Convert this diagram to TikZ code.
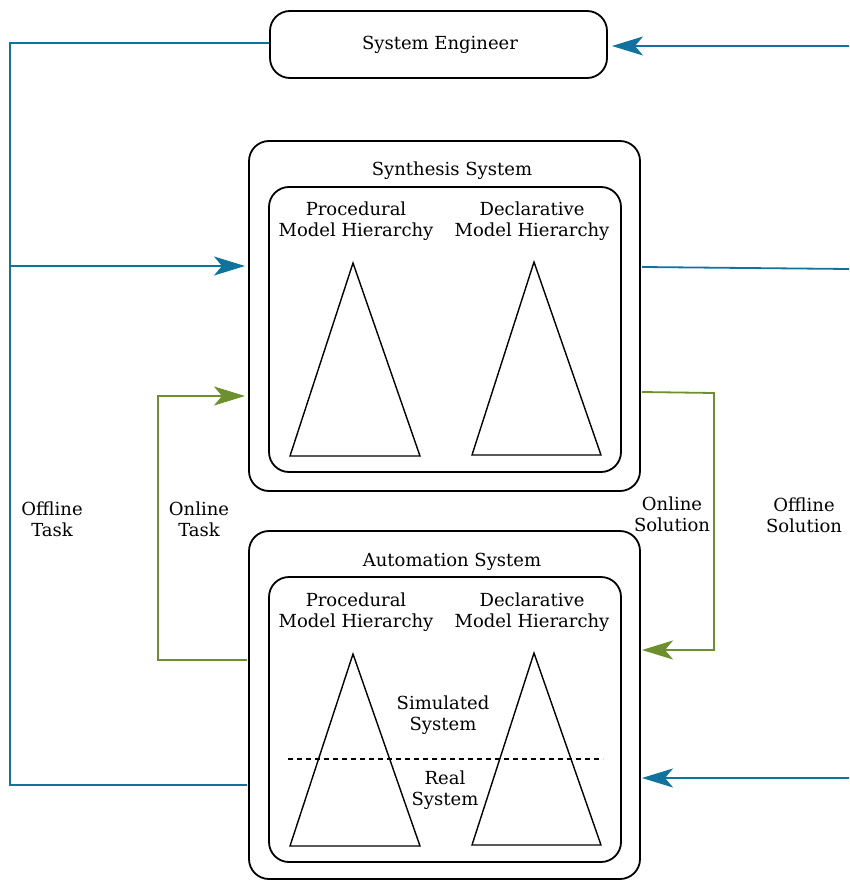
\documentclass[tikz,border=0pt]{standalone}
\usepackage{fontspec}
\setmainfont{DejaVu Serif}
\usetikzlibrary{arrows.meta}
\definecolor{flowblue}{HTML}{10739E}
\definecolor{flowgreen}{HTML}{6D8F2E}
\begin{document}
\begin{tikzpicture}[x=1pt,y=-1pt,
  txt/.style={font=\fontsize{18}{21}\selectfont, align=center, inner sep=0pt, yshift=-2pt},
  box/.style={draw=black, line width=1.8pt, rounded corners=20pt, inner sep=0pt},
  tri/.style={draw=black, line width=1.4pt, line join=miter},
  tip/.style={-{Stealth[length=31pt,width=19pt,inset=8pt]}},
  blueline/.style={draw=flowblue, line width=1.8pt},
  greenline/.style={draw=flowgreen, line width=1.8pt},
]
\useasboundingbox (0,0) rectangle (849,880);

% actors and systems
\node[box, minimum width=337pt, minimum height=67pt] (eng) at (438.5,44.5) {};
\node[txt] (engl) at (440,43) {System Engineer};

\node[box, minimum width=391pt, minimum height=350pt] (syn) at (444.5,316) {};
\node[txt] (synl) at (452,169) {Synthesis System};
\node[box, minimum width=352pt, minimum height=285pt] (synin) at (445,329.5) {};
\node[txt] (synp) at (356,219) {Procedural\\Model Hierarchy};
\node[txt] (synd) at (532,219) {Declarative\\Model Hierarchy};
\draw[tri] (353,263) -- (420,456) -- (290,456) -- cycle;
\draw[tri] (534,262) -- (601,455) -- (472,455) -- cycle;

\node[box, minimum width=391pt, minimum height=348pt] (aut) at (444.5,705) {};
\node[txt] (autl) at (452,560) {Automation System};
\node[box, minimum width=352pt, minimum height=285pt] (autin) at (445,719.5) {};
\node[txt] (autp) at (356,610) {Procedural\\Model Hierarchy};
\node[txt] (autd) at (532,610) {Declarative\\Model Hierarchy};
\draw[tri] (353,654) -- (420,846) -- (290,846) -- cycle;
\draw[tri] (534,653) -- (601,845) -- (472,845) -- cycle;
\coordinate (dashL) at (288,759);
\coordinate (dashR) at (603,759);
\draw[black, line width=1.4pt, dash pattern=on 5pt off 4pt] (dashL) -- (dashR);
\node[txt] (sim) at (443,713) {Simulated\\System};
\node[txt] (real) at (445,788) {Real\\System};

% offline task (left, blue)
\coordinate (engL) at (10,43);
\coordinate (synInL) at (10,266);
\coordinate (synInR) at (245,266);
\coordinate (autOutL) at (10,785);
\coordinate (autOutR) at (247,785);
\draw[blueline] (autOutR) -- (autOutL) -- (engL);
\draw[blueline, tip] (eng.west |- engL) -- (engL) -- (synInL) -- (synInR);
\node[txt] (offt) at (52,517) {Offline\\Task};

% online task (left, green)
\coordinate (onA) at (247,660);
\coordinate (onB) at (158,660);
\coordinate (onC) at (158,396);
\coordinate (onD) at (245,396);
\draw[greenline, tip] (onA) -- (onB) -- (onC) -- (onD);
\node[txt] (ont) at (199,517) {Online\\Task};

% online solution (right, green)
\coordinate (osA) at (642,392);
\coordinate (osB) at (714,393);
\coordinate (osC) at (714,650);
\coordinate (osD) at (642,650);
\draw[greenline, tip] (osA) -- (osB) -- (osC) -- (osD);
\node[txt] (ons) at (672,512) {Online\\Solution};

% offline solution (right, blue)
\coordinate (r1) at (849,46);
\coordinate (r1e) at (612,46);
\coordinate (r2a) at (642,267);
\coordinate (r2b) at (849,269);
\coordinate (r3) at (849,778);
\coordinate (r3e) at (642,778);
\draw[blueline, tip] (r1) -- (r1e);
\draw[blueline] (r2a) -- (r2b);
\draw[blueline, tip] (r3) -- (r3e);
\node[txt] (offs) at (804,513) {Offline\\Solution};
\end{tikzpicture}
\end{document}
